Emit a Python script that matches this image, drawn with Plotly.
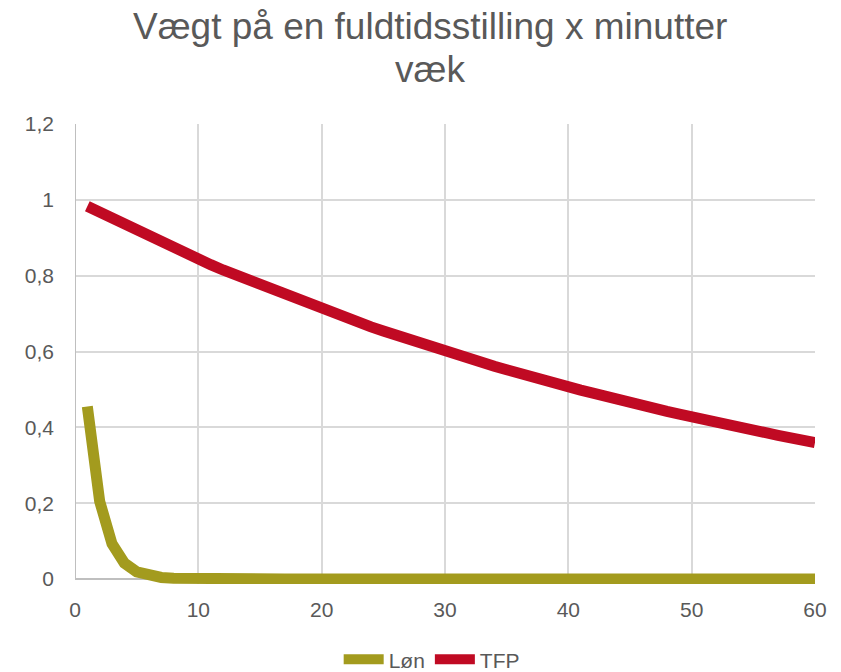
import plotly.graph_objects as go

minutes = list(range(1, 61))
lon = [0.455, 0.205, 0.093, 0.042, 0.019, 0.009, 0.004, 0.002, 0.001, 0.0005,
       0.0003, 0.0001, 0.0, 0.0, 0.0, 0.0, 0.0, 0.0, 0.0, 0.0,
       0.0, 0.0, 0.0, 0.0, 0.0, 0.0, 0.0, 0.0, 0.0, 0.0,
       0.0, 0.0, 0.0, 0.0, 0.0, 0.0, 0.0, 0.0, 0.0, 0.0,
       0.0, 0.0, 0.0, 0.0, 0.0, 0.0, 0.0, 0.0, 0.0, 0.0,
       0.0, 0.0, 0.0, 0.0, 0.0, 0.0, 0.0, 0.0, 0.0, 0.0]
tfp = [0.983, 0.967, 0.950, 0.934, 0.918, 0.903, 0.888, 0.873, 0.858, 0.844,
       0.829, 0.815, 0.802, 0.788, 0.775, 0.762, 0.749, 0.736, 0.724, 0.712,
       0.700, 0.688, 0.676, 0.665, 0.654, 0.643, 0.632, 0.621, 0.611, 0.600,
       0.590, 0.580, 0.571, 0.561, 0.552, 0.542, 0.533, 0.524, 0.515, 0.507,
       0.498, 0.490, 0.481, 0.473, 0.465, 0.457, 0.450, 0.442, 0.435, 0.427,
       0.420, 0.413, 0.406, 0.399, 0.393, 0.386, 0.379, 0.373, 0.367, 0.360]

title_lines = ["Vægt på en fuldtidsstilling x minutter", "væk"]
x_ticks = [0, 10, 20, 30, 40, 50, 60]
y_ticks = [0, 0.2, 0.4, 0.6, 0.8, 1.0, 1.2]

FONT = "Liberation Sans, Arial, sans-serif"
GREY = "#595959"
AXIS = "#BFBFBF"
GRID = "#D9D9D9"

fig = go.Figure()
fig.add_trace(go.Scatter(x=minutes, y=lon, mode="lines", name="Løn",
                         line=dict(color="#A39B1E", width=11)))
fig.add_trace(go.Scatter(x=minutes, y=tfp, mode="lines", name="TFP",
                         line=dict(color="#C00A23", width=11)))

for txt, yp in zip(title_lines, [1.211, 1.118]):
    fig.add_annotation(text=txt, xref="paper", yref="paper", x=0.480, y=yp,
                       xanchor="center", yanchor="middle", showarrow=False,
                       font=dict(family=FONT, size=37, color=GREY))

# left axis line from 0 to 1.2
fig.add_shape(type="line", xref="x", yref="y", x0=0, x1=0, y0=0, y1=1.2,
              line=dict(color=AXIS, width=2), layer="above")

fig.update_layout(
    width=841, height=672,
    margin=dict(l=67, r=34, t=116, b=96, autoexpand=False),
    paper_bgcolor="white", plot_bgcolor="white",
    separators=",.",
    font=dict(family=FONT, color=GREY, size=21),
    showlegend=True,
    legend=dict(orientation="h", x=0.482, xanchor="center", y=-0.12, yanchor="top",
                font=dict(family=FONT, size=21, color=GREY),
                itemwidth=40, tracegroupgap=0, bgcolor="rgba(0,0,0,0)"),
)
fig.update_xaxes(range=[0, 60], tickvals=x_ticks, showgrid=True, gridcolor=GRID,
                 gridwidth=1.5, showline=False, zeroline=False, automargin=False,
                 ticks="", ticklabelstandoff=11,
                 tickfont=dict(family=FONT, size=21, color=GREY))
fig.update_yaxes(range=[-0.0132, 1.2], tickvals=y_ticks, showgrid=True, gridcolor=GRID,
                 gridwidth=1.5, showline=False, zeroline=True, zerolinecolor=AXIS,
                 zerolinewidth=2, automargin=False, ticks="", ticklabelstandoff=20,
                 tickfont=dict(family=FONT, size=21, color=GREY))

fig.write_html("out.html")
